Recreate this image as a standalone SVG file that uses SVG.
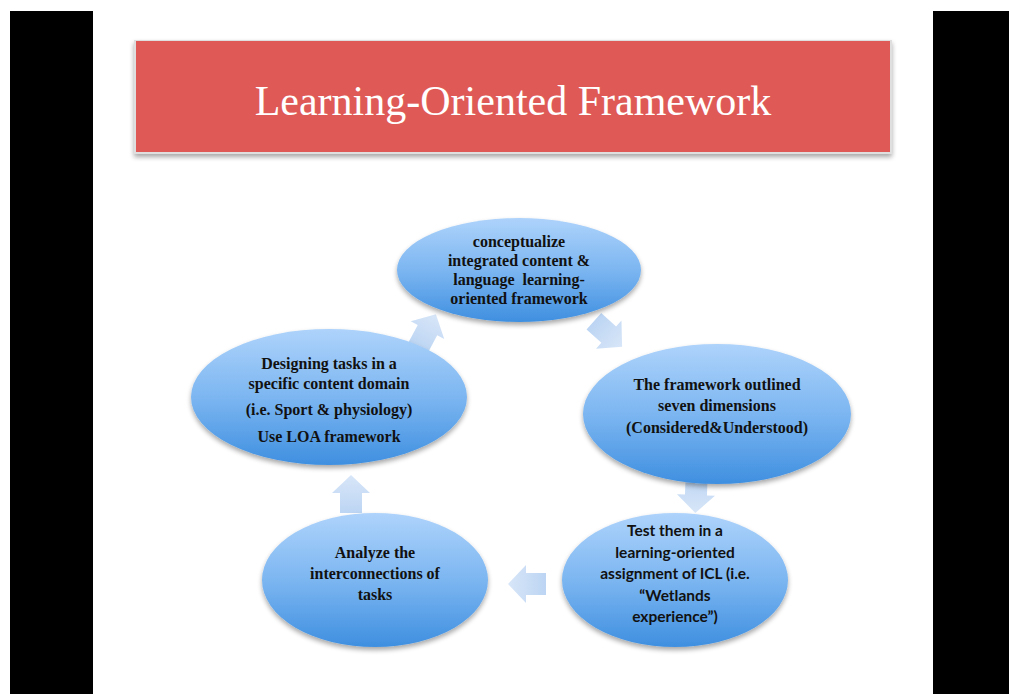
<svg xmlns="http://www.w3.org/2000/svg" width="1009" height="694" viewBox="0 0 1009 694">
  <defs>
    <linearGradient id="nodeFill" x1="0" y1="0" x2="0" y2="1">
      <stop offset="0" stop-color="#aed3fb"/>
      <stop offset="0.5" stop-color="#7cb6f1"/>
      <stop offset="1" stop-color="#3f8fe0"/>
    </linearGradient>
    <linearGradient id="arrowFill" x1="0" y1="0" x2="1" y2="0">
      <stop offset="0" stop-color="#bcd5f3"/>
      <stop offset="1" stop-color="#d8e6f8"/>
    </linearGradient>
    <filter id="softShadow" x="-20%" y="-20%" width="140%" height="150%">
      <feGaussianBlur in="SourceAlpha" stdDeviation="2.5"/>
      <feOffset dx="0" dy="3" result="b"/>
      <feComponentTransfer><feFuncA type="linear" slope="0.35"/></feComponentTransfer>
      <feMerge><feMergeNode/><feMergeNode in="SourceGraphic"/></feMerge>
    </filter>
    <path id="blockArrow" d="M-19,-11 H1 V-19 L19,0 L1,19 V11 H-19 Z"/>
    <style>
      .lbl { font-weight: bold; fill: #111; text-anchor: middle; }
      .times { font-family: "Times New Roman", "Liberation Serif", serif; font-size: 16px; }
      .calibri { font-family: Lato, "Open Sans", sans-serif; font-size: 15.5px; }
      .node { fill: url(#nodeFill); filter: url(#softShadow); }
      .arrow { fill: url(#arrowFill); }
    </style>
  </defs>

  <rect x="0" y="0" width="1009" height="694" fill="#ffffff"/>

  <!-- side bars -->
  <rect x="10" y="11" width="83" height="683" fill="#000"/>
  <rect x="933" y="11" width="76" height="683" fill="#000"/>

  <!-- title banner -->
  <g id="title">
    <rect x="134" y="40" width="758" height="114" fill="#dfdfdf" filter="url(#softShadow)"/>
    <rect x="136" y="41" width="754" height="111" fill="#df5a56"/>
    <text x="513" y="115" text-anchor="middle" font-family="Liberation Serif, Times New Roman, serif" font-size="42" fill="#ffffff">Learning-Oriented Framework</text>
  </g>

  <!-- cycle arrows -->
  <g id="connectors">
    <use href="#blockArrow" class="arrow" transform="translate(608,334) rotate(42)"/>
    <use href="#blockArrow" class="arrow" transform="translate(696,494) rotate(92)"/>
    <use href="#blockArrow" class="arrow" transform="translate(527,584) rotate(180)"/>
    <use href="#blockArrow" class="arrow" transform="translate(351,494) rotate(-90)"/>
    <use href="#blockArrow" class="arrow" transform="translate(427,331) rotate(-62)"/>
  </g>

  <g id="node-conceptualize" class="times">
    <ellipse class="node" cx="519" cy="270" rx="122" ry="52"/>
    <text class="lbl" x="519" y="247">conceptualize</text>
    <text class="lbl" x="519" y="266">integrated content &amp;</text>
    <text class="lbl" x="519" y="285" xml:space="preserve">language  learning-</text>
    <text class="lbl" x="519" y="304">oriented framework</text>
  </g>

  <g id="node-dimensions" class="times">
    <ellipse class="node" cx="717" cy="414" rx="134" ry="70"/>
    <text class="lbl" x="717" y="390">The framework outlined</text>
    <text class="lbl" x="717" y="411">seven dimensions</text>
    <text class="lbl" x="717" y="433">(Considered&amp;Understood)</text>
  </g>

  <g id="node-test" class="calibri">
    <ellipse class="node" cx="675" cy="580" rx="113" ry="67"/>
    <text class="lbl" x="675" y="536">Test them in a</text>
    <text class="lbl" x="675" y="558">learning-oriented</text>
    <text class="lbl" x="675" y="579">assignment of ICL (i.e.</text>
    <text class="lbl" x="675" y="601">“Wetlands</text>
    <text class="lbl" x="675" y="622">experience”)</text>
  </g>

  <g id="node-analyze" class="times">
    <ellipse class="node" cx="375" cy="580" rx="113" ry="67"/>
    <text class="lbl" x="375" y="558">Analyze the</text>
    <text class="lbl" x="375" y="579">interconnections of</text>
    <text class="lbl" x="375" y="600">tasks</text>
  </g>

  <g id="node-designing" class="times">
    <ellipse class="node" cx="329" cy="397" rx="138" ry="68"/>
    <text class="lbl" x="329" y="369">Designing tasks in a</text>
    <text class="lbl" x="329" y="389">specific content domain</text>
    <text class="lbl" x="329" y="415">(i.e. Sport &amp; physiology)</text>
    <text class="lbl" x="329" y="442">Use LOA framework</text>
  </g>
</svg>
